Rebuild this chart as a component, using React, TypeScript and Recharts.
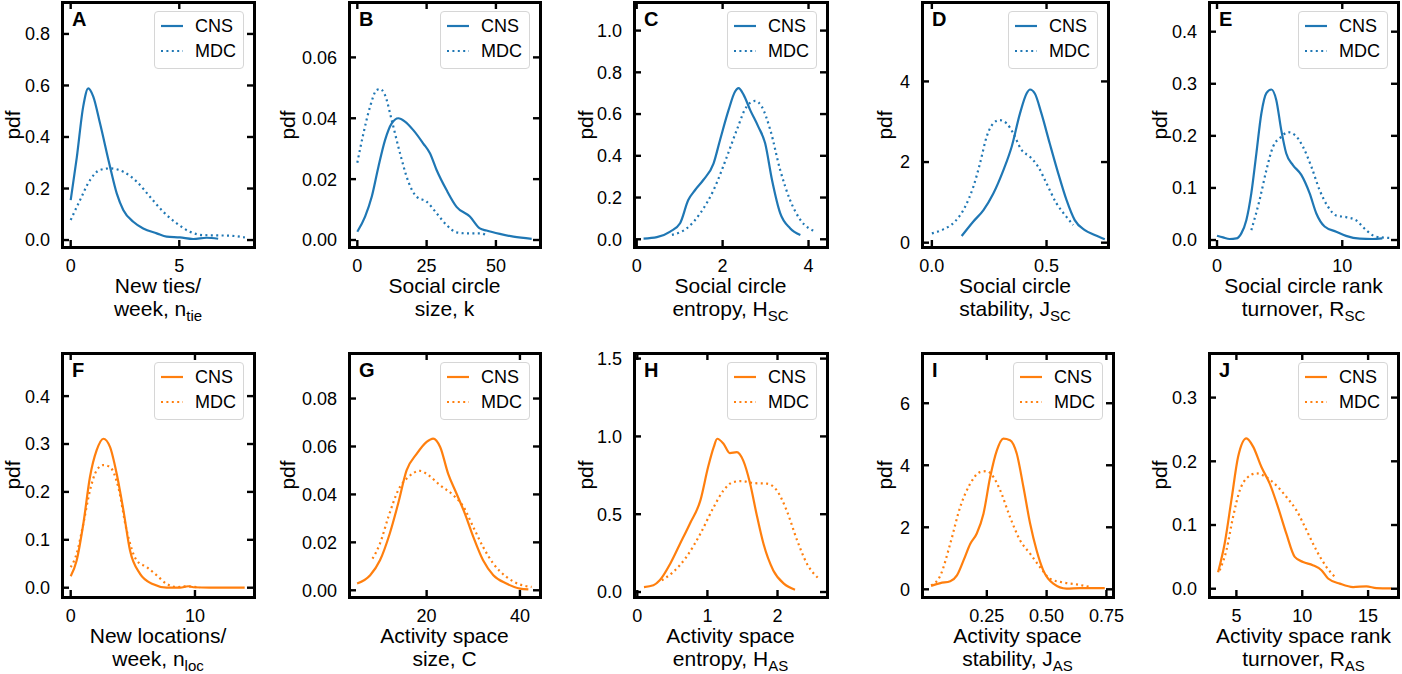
import React from 'react';
import { LineChart, Line, XAxis, YAxis } from 'recharts';

const BLUE = '#1f77b4';
const ORANGE = '#ff7f0e';
const FONT = '"Liberation Sans", Arial, sans-serif';

const datasets = ['CNS', 'MDC'];

// A: new ties / week
const tiesCns = [[0, 0.155], [0.28, 0.32], [0.58, 0.52], [0.81, 0.589], [1.04, 0.557], [1.35, 0.453], [1.81, 0.285], [2.12, 0.181], [2.42, 0.117], [2.88, 0.071], [3.34, 0.045], [3.96, 0.026], [4.42, 0.013], [5.03, 0.01], [5.64, 0.004], [6.26, 0.009], [6.79, 0.005]];
const tiesMdc = [[0, 0.078], [0.43, 0.155], [0.89, 0.233], [1.35, 0.272], [1.81, 0.278], [2.42, 0.265], [3.04, 0.227], [3.65, 0.168], [4.26, 0.11], [4.88, 0.065], [5.49, 0.032], [6.1, 0.019], [6.72, 0.018], [7.33, 0.017], [8.02, 0.01]];
// B: social circle size
const sizeCns = [[0, 0.0027], [2.8, 0.0077], [5.2, 0.0142], [7.6, 0.024], [10, 0.0328], [12.4, 0.0383], [14.8, 0.04], [17.2, 0.0389], [20.2, 0.0361], [23.8, 0.0317], [26.2, 0.0285], [28.6, 0.023], [32.2, 0.0164], [35.8, 0.0109], [40.6, 0.0077], [44.2, 0.0038], [46.6, 0.0031], [51.4, 0.002], [56.3, 0.0011], [62.9, 0.0004]];
const sizeMdc = [[0, 0.0254], [2.2, 0.035], [4.6, 0.0438], [7, 0.0493], [8.2, 0.0496], [10, 0.0476], [12.4, 0.0394], [15.4, 0.0285], [18.4, 0.0192], [21.4, 0.0142], [25, 0.0126], [28.6, 0.0088], [32.2, 0.0049], [35.8, 0.0025], [39.4, 0.0022], [44.2, 0.0022], [47.2, 0.0013]];
// C: social circle entropy
const entSCCns = [[0.16, 0.003], [0.47, 0.01], [0.78, 0.037], [1.01, 0.077], [1.2, 0.188], [1.36, 0.236], [1.55, 0.284], [1.79, 0.364], [1.94, 0.476], [2.14, 0.62], [2.29, 0.708], [2.37, 0.724], [2.49, 0.692], [2.64, 0.62], [2.83, 0.54], [2.99, 0.46], [3.15, 0.284], [3.34, 0.125], [3.57, 0.053], [3.81, 0.021]];
const entSCMdc = [[0.82, 0.021], [1.17, 0.053], [1.48, 0.125], [1.79, 0.236], [2.1, 0.396], [2.33, 0.524], [2.56, 0.636], [2.76, 0.663], [2.91, 0.636], [3.11, 0.524], [3.34, 0.332], [3.57, 0.188], [3.81, 0.093], [4.16, 0.037]];
// D: social circle stability
const stabSCCns = [[0.13, 0.165], [0.18, 0.52], [0.225, 0.81], [0.268, 1.22], [0.312, 1.8], [0.348, 2.38], [0.384, 3.2], [0.413, 3.7], [0.428, 3.8], [0.449, 3.7], [0.478, 3.2], [0.514, 2.46], [0.551, 1.72], [0.587, 1.06], [0.623, 0.56], [0.667, 0.31], [0.71, 0.19], [0.754, 0.083]];
const stabSCMdc = [[0, 0.23], [0.05, 0.33], [0.1, 0.52], [0.145, 0.89], [0.181, 1.39], [0.21, 1.97], [0.239, 2.63], [0.268, 2.96], [0.294, 3.04], [0.326, 2.96], [0.355, 2.71], [0.391, 2.3], [0.428, 2.13], [0.464, 1.88], [0.5, 1.47], [0.543, 0.98], [0.587, 0.64], [0.616, 0.44]];
// E: social circle rank turnover
const rankSCCns = [[0, 0.0083], [0.48, 0.005], [1.01, 0.002], [1.54, 0.003], [1.94, 0.0128], [2.34, 0.038], [2.74, 0.09], [3.14, 0.166], [3.54, 0.243], [3.94, 0.282], [4.34, 0.289], [4.73, 0.269], [5.13, 0.211], [5.53, 0.166], [6.06, 0.144], [6.73, 0.125], [7.39, 0.09], [7.93, 0.051], [8.59, 0.026], [9.52, 0.016], [10.3, 0.008], [11.4, 0.0026], [12.4, 0.002], [13.2, 0.003]];
const rankSCMdc = [[2.74, 0.019], [3.4, 0.077], [3.94, 0.134], [4.47, 0.179], [5.13, 0.198], [5.66, 0.207], [6.2, 0.202], [6.86, 0.179], [7.53, 0.141], [8.19, 0.096], [8.86, 0.064], [9.52, 0.047], [10.3, 0.044], [11.1, 0.038], [11.9, 0.019], [12.7, 0.0064], [13.8, 0.004]];
// F: new locations / week
const locCns = [[0, 0.024], [0.48, 0.057], [1.02, 0.134], [1.55, 0.231], [2.09, 0.287], [2.63, 0.311], [3.16, 0.294], [3.7, 0.238], [4.24, 0.162], [4.77, 0.078], [5.58, 0.029], [6.65, 0.007], [7.72, 0.0], [8.8, 0.0], [9.46, 0.003], [9.87, 0.001], [11.2, 0.0], [14, 0.0]];
const locMdc = [[0, 0.043], [0.48, 0.071], [1.02, 0.134], [1.55, 0.203], [2.09, 0.245], [2.63, 0.256], [3.16, 0.252], [3.83, 0.21], [4.5, 0.12], [5.31, 0.057], [6.11, 0.043], [6.92, 0.026], [7.72, 0.008], [8.53, 0.0014], [9.33, 0.003], [10.4, 0.0]];
// G: activity space size
const asSizeCns = [[5.1, 0.0028], [7.9, 0.0063], [10, 0.0125], [12.1, 0.0237], [13.9, 0.0362], [15.7, 0.05], [17.9, 0.057], [20, 0.0619], [21.4, 0.0633], [22.9, 0.0598], [24.6, 0.0487], [26.4, 0.0404], [28.2, 0.032], [30, 0.0223], [32.1, 0.0125], [34.3, 0.0063], [37.1, 0.0028], [40, 0.0007], [41.8, 0.0004]];
const asSizeMdc = [[8.4, 0.0132], [10, 0.0195], [11.8, 0.0306], [13.9, 0.0417], [16.1, 0.0473], [18.6, 0.0498], [20.4, 0.048], [22.9, 0.0438], [25.7, 0.0397], [27.9, 0.0348], [30, 0.0264], [32.1, 0.0181], [34.3, 0.0111], [37.1, 0.0056], [40, 0.0024], [42.5, 0.0014]];
// H: activity space entropy
const entASCns = [[0.095, 0.032], [0.23, 0.043], [0.32, 0.075], [0.47, 0.182], [0.61, 0.31], [0.75, 0.439], [0.9, 0.589], [1.01, 0.803], [1.09, 0.931], [1.14, 0.985], [1.23, 0.953], [1.32, 0.893], [1.42, 0.899], [1.51, 0.846], [1.61, 0.696], [1.7, 0.503], [1.8, 0.31], [1.94, 0.139], [2.09, 0.054], [2.25, 0.015]];
const entASMdc = [[0.35, 0.075], [0.51, 0.128], [0.7, 0.225], [0.9, 0.375], [1.09, 0.546], [1.23, 0.653], [1.37, 0.707], [1.49, 0.713], [1.66, 0.7], [1.85, 0.696], [1.99, 0.653], [2.13, 0.525], [2.28, 0.332], [2.42, 0.182], [2.59, 0.086]];
// I: activity space stability
const stabASCns = [[0.017, 0.11], [0.056, 0.2], [0.097, 0.26], [0.125, 0.45], [0.153, 0.94], [0.181, 1.47], [0.208, 1.8], [0.236, 2.44], [0.264, 3.62], [0.292, 4.48], [0.319, 4.86], [0.347, 4.81], [0.375, 4.38], [0.403, 3.3], [0.431, 2.12], [0.458, 1.26], [0.486, 0.61], [0.528, 0.18], [0.583, 0.02], [0.639, 0.04], [0.743, 0.04]];
const stabASMdc = [[0.017, 0.13], [0.056, 0.45], [0.097, 1.47], [0.139, 2.66], [0.181, 3.41], [0.222, 3.78], [0.25, 3.81], [0.278, 3.62], [0.306, 3.19], [0.347, 2.33], [0.389, 1.58], [0.431, 1.15], [0.472, 0.72], [0.514, 0.34], [0.569, 0.22], [0.625, 0.16], [0.681, 0.075]];
// J: activity space rank turnover
const rankASCns = [[3.61, 0.026], [4.11, 0.071], [4.62, 0.139], [5.13, 0.207], [5.76, 0.236], [6.27, 0.223], [6.9, 0.191], [7.53, 0.165], [8.16, 0.128], [8.8, 0.086], [9.43, 0.05], [10.06, 0.042], [10.8, 0.037], [11.46, 0.029], [11.96, 0.016], [12.85, 0.008], [13.86, 0.0026], [14.87, 0.0037], [15.63, 0.001], [16.77, 0.0005]];
const rankASMdc = [[3.73, 0.029], [4.24, 0.06], [4.75, 0.113], [5.25, 0.154], [5.76, 0.173], [6.52, 0.181], [7.28, 0.175], [8.04, 0.162], [8.8, 0.144], [9.56, 0.123], [10.32, 0.092], [11.08, 0.06], [11.84, 0.034], [12.6, 0.016]];

// tick values
const tiesXTicks = [0, 5];
const tiesYTicks = [0, 0.2, 0.4, 0.6, 0.8];
const sizeXTicks = [0, 25, 50];
const sizeYTicks = [0, 0.02, 0.04, 0.06];
const entSCXTicks = [0, 2, 4];
const entSCYTicks = [0, 0.2, 0.4, 0.6, 0.8, 1.0];
const stabSCXTicks = [0, 0.5];
const stabSCYTicks = [0, 2, 4];
const rankSCXTicks = [0, 10];
const rankSCYTicks = [0, 0.1, 0.2, 0.3, 0.4];
const locXTicks = [0, 10];
const locYTicks = [0, 0.1, 0.2, 0.3, 0.4];
const asSizeXTicks = [20, 40];
const asSizeYTicks = [0, 0.02, 0.04, 0.06, 0.08];
const entASXTicks = [0, 1, 2];
const entASYTicks = [0, 0.5, 1.0, 1.5];
const stabASXTicks = [0.25, 0.5, 0.75];
const stabASYTicks = [0, 2, 4, 6];
const rankASXTicks = [5, 10, 15];
const rankASYTicks = [0, 0.1, 0.2, 0.3];

type Panel = {
  letter: string; color: string; cns: number[][]; mdc: number[][];
  L: number; R: number; T: number; B: number;
  xDom: [number, number]; yDom: [number, number];
  xTicks: number[]; yTicks: number[]; xDec: number; yDec: number;
  line1: string; line2: string; sub?: string; pdfDx: number;
};

const R1T = 2, R1B = 247, R2T = 353, R2B = 597;

const panels: Panel[] = [
  { letter: 'A', color: BLUE, cns: tiesCns, mdc: tiesMdc, L: 62, R: 254, T: R1T, B: R1B, xDom: [-0.4, 8.44], yDom: [-0.027, 0.924], xTicks: tiesXTicks, yTicks: tiesYTicks, xDec: 0, yDec: 1, line1: 'New ties/', line2: 'week, n', sub: 'tie', pdfDx: -49.5 },
  { letter: 'B', color: BLUE, cns: sizeCns, mdc: sizeMdc, L: 349, R: 540, T: R1T, B: R1B, xDom: [-3.0, 65.9], yDom: [-0.0023, 0.0782], xTicks: sizeXTicks, yTicks: sizeYTicks, xDec: 0, yDec: 2, line1: 'Social circle', line2: 'size, k', pdfDx: -61.5 },
  { letter: 'C', color: BLUE, cns: entSCCns, mdc: entSCMdc, L: 634, R: 827, T: R1T, B: R1B, xDom: [-0.063, 4.43], yDom: [-0.037, 1.137], xTicks: entSCXTicks, yTicks: entSCYTicks, xDec: 0, yDec: 1, line1: 'Social circle', line2: 'entropy, H', sub: 'SC', pdfDx: -48.5 },
  { letter: 'D', color: BLUE, cns: stabSCCns, mdc: stabSCMdc, L: 922, R: 1108, T: R1T, B: R1B, xDom: [-0.043, 0.768], yDom: [-0.107, 5.97], xTicks: stabSCXTicks, yTicks: stabSCYTicks, xDec: 1, yDec: 0, line1: 'Social circle', line2: 'stability, J', sub: 'SC', pdfDx: -37 },
  { letter: 'E', color: BLUE, cns: rankSCCns, mdc: rankSCMdc, L: 1209, R: 1398, T: R1T, B: R1B, xDom: [-0.64, 14.45], yDom: [-0.0134, 0.457], xTicks: rankSCXTicks, yTicks: rankSCYTicks, xDec: 0, yDec: 1, line1: 'Social circle rank', line2: 'turnover, R', sub: 'SC', pdfDx: -49.5 },
  { letter: 'F', color: ORANGE, cns: locCns, mdc: locMdc, L: 62, R: 254, T: R2T, B: R2B, xDom: [-0.7, 14.75], yDom: [-0.0194, 0.49], xTicks: locXTicks, yTicks: locYTicks, xDec: 0, yDec: 1, line1: 'New locations/', line2: 'week, n', sub: 'loc', pdfDx: -49.5 },
  { letter: 'G', color: ORANGE, cns: asSizeCns, mdc: asSizeMdc, L: 349, R: 540, T: R2T, B: R2B, xDom: [3.36, 44.3], yDom: [-0.0028, 0.099], xTicks: asSizeXTicks, yTicks: asSizeYTicks, xDec: 0, yDec: 2, line1: 'Activity space', line2: 'size, C', pdfDx: -61.5 },
  { letter: 'H', color: ORANGE, cns: entASCns, mdc: entASMdc, L: 634, R: 827, T: R2T, B: R2B, xDom: [-0.047, 2.706], yDom: [-0.032, 1.536], xTicks: entASXTicks, yTicks: entASYTicks, xDec: 0, yDec: 1, line1: 'Activity space', line2: 'entropy, H', sub: 'AS', pdfDx: -48.5 },
  { letter: 'I', color: ORANGE, cns: stabASCns, mdc: stabASMdc, L: 922, R: 1113, T: R2T, B: R2B, xDom: [-0.021, 0.7775], yDom: [-0.248, 7.62], xTicks: stabASXTicks, yTicks: stabASYTicks, xDec: 2, yDec: 0, line1: 'Activity space', line2: 'stability, J', sub: 'AS', pdfDx: -37 },
  { letter: 'J', color: ORANGE, cns: rankASCns, mdc: rankASMdc, L: 1209, R: 1398, T: R2T, B: R2B, xDom: [2.92, 17.27], yDom: [-0.013, 0.37], xTicks: rankASXTicks, yTicks: rankASYTicks, xDec: 0, yDec: 1, line1: 'Activity space rank', line2: 'turnover, R', sub: 'AS', pdfDx: -49.5 },
];

const PAD_L = 60, PAD_T = 10, PAD_R = 24, PAD_B = 30;
const TICK = 7;
const DOTS = '2 3.4';

const pts = (a: number[][]) => a.map(([x, y]) => ({ x, y }));

function PanelChart({ p }: { p: Panel }) {
  const w = p.R - p.L, h = p.B - p.T;
  const top = PAD_T, bot = PAD_T + h, left = PAD_L, right = PAD_L + w;

  const xTick = (props: any) => {
    const { x, payload } = props;
    return (
      <g>
        <line x1={x} x2={x} y1={bot} y2={bot - TICK} stroke="#000" strokeWidth={2.4} />
        <line x1={x} x2={x} y1={top} y2={top + TICK} stroke="#000" strokeWidth={2.4} />
        <text x={x} y={bot + 25} textAnchor="middle" fontSize={18} fontFamily={FONT} fill="#000">
          {Number(payload.value).toFixed(p.xDec)}
        </text>
      </g>
    );
  };
  const yTick = (props: any) => {
    const { y, payload } = props;
    return (
      <g>
        <line x1={left} x2={left + TICK} y1={y} y2={y} stroke="#000" strokeWidth={2.4} />
        <line x1={right} x2={right - TICK} y1={y} y2={y} stroke="#000" strokeWidth={2.4} />
        <text x={left - 12} y={y + 6.4} textAnchor="end" fontSize={18} fontFamily={FONT} fill="#000">
          {Number(payload.value).toFixed(p.yDec)}
        </text>
      </g>
    );
  };

  return (
    <>
      <div style={{ position: 'absolute', left: p.L - PAD_L, top: p.T - PAD_T }}>
        <LineChart width={w + PAD_L + PAD_R} height={h + PAD_T + PAD_B} margin={{ top: PAD_T, right: PAD_R, left: 0, bottom: 0 }}>
          <XAxis type="number" dataKey="x" domain={p.xDom} allowDataOverflow ticks={p.xTicks} interval={0}
            height={PAD_B} tickLine={false} axisLine={false} tick={xTick} />
          <YAxis type="number" dataKey="y" domain={p.yDom} allowDataOverflow ticks={p.yTicks} interval={0}
            width={PAD_L} tickLine={false} axisLine={false} tick={yTick} />
          <Line data={pts(p.cns)} dataKey="y" name={datasets[0]} type="monotone" stroke={p.color} strokeWidth={2.2}
            dot={false} activeDot={false} isAnimationActive={false} />
          <Line data={pts(p.mdc)} dataKey="y" name={datasets[1]} type="monotone" stroke={p.color} strokeWidth={2.2}
            strokeDasharray={DOTS} dot={false} activeDot={false} isAnimationActive={false} />
        </LineChart>
      </div>
      {/* frame */}
      <div style={{ position: 'absolute', left: p.L - 1.5, top: p.T - 1.5, width: w + 3, height: h + 3, boxSizing: 'border-box', border: '3px solid #000' }} />
      {/* panel letter */}
      <div style={{ position: 'absolute', left: p.L + 10, top: p.T + 6.5, fontSize: 20, fontWeight: 'bold', lineHeight: 1 }}>{p.letter}</div>
      {/* legend */}
      <div style={{ position: 'absolute', left: p.R - 10 - 90, top: p.T + 9, width: 90, height: 58, boxSizing: 'border-box', border: '1px solid #d6d6d6', borderRadius: 4, background: 'rgba(255,255,255,0.8)' }}>
        {datasets.map((name, i) => (
          <div key={name} style={{ position: 'absolute', left: 0, top: 2 + i * 25, height: 24, width: '100%' }}>
            <svg width={28} height={24} style={{ position: 'absolute', left: 5, top: 0 }}>
              <line x1={1} x2={23} y1={12} y2={12} stroke={p.color} strokeWidth={2.2} strokeDasharray={i === 1 ? DOTS : undefined} />
            </svg>
            <span style={{ position: 'absolute', left: 40, top: 0, lineHeight: '24px', fontSize: 18 }}>{name}</span>
          </div>
        ))}
      </div>
      {/* y label */}
      <div style={{ position: 'absolute', left: p.L + p.pdfDx - 30, top: (p.T + p.B) / 2 - 12, width: 60, height: 24, lineHeight: '24px', textAlign: 'center', fontSize: 21, transform: 'rotate(-90deg)' }}>pdf</div>
      {/* x label */}
      <div style={{ position: 'absolute', left: p.L - 40, width: w + 80, top: p.B + 27, textAlign: 'center', fontSize: 21, lineHeight: '23px', whiteSpace: 'nowrap' }}>
        <div>{p.line1}</div>
        <div>{p.line2}{p.sub && <span style={{ fontSize: 15, position: 'relative', top: 5 }}>{p.sub}</span>}</div>
      </div>
    </>
  );
}

export default function App() {
  return (
    <div style={{ position: 'absolute', left: 0, top: 0, width: 1402, height: 674, overflow: 'hidden', background: '#fff', fontFamily: FONT, color: '#000' }}>
      {panels.map((p) => <PanelChart key={p.letter} p={p} />)}
    </div>
  );
}
